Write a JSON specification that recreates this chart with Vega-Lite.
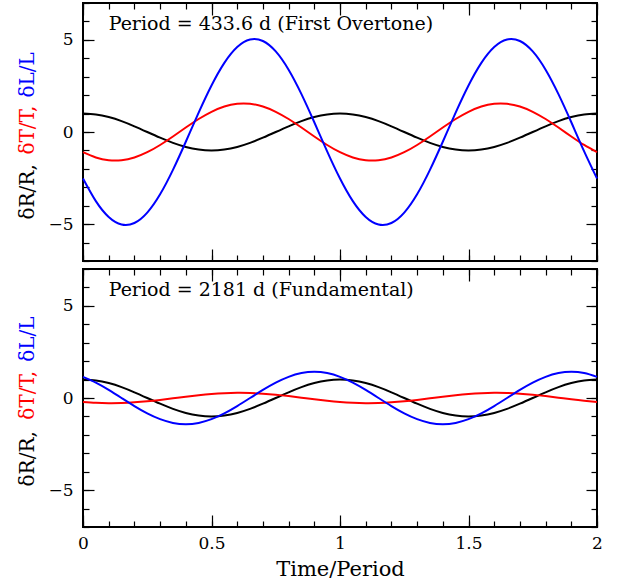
{
  "$schema": "https://vega.github.io/schema/vega-lite/v6.json",
  "padding": {"left": 17, "top": 1, "right": 5, "bottom": 5},
  "spacing": 4,
  "config": {"view": {"stroke": "black", "strokeWidth": 2}, "axis": {"grid": false}},
  "datasets": {
    "w": [
      {"t":0,"dR":1,"dTa":-1.096,"dLa":-2.525,"dTb":-0.216,"dLb":1.149},
      {"t":0.05,"dR":0.951,"dTa":-1.381,"dLa":-3.753,"dTb":-0.26,"dLb":0.835},
      {"t":0.1,"dR":0.809,"dTa":-1.531,"dLa":-4.613,"dTb":-0.279,"dLb":0.439},
      {"t":0.15,"dR":0.588,"dTa":-1.531,"dLa":-5.022,"dTb":-0.271,"dLb":0},
      {"t":0.2,"dR":0.309,"dTa":-1.381,"dLa":-4.939,"dTb":-0.236,"dLb":-0.439},
      {"t":0.25,"dR":0,"dTa":-1.096,"dLa":-4.373,"dTb":-0.178,"dLb":-0.835},
      {"t":0.3,"dR":-0.309,"dTa":-0.704,"dLa":-3.379,"dTb":-0.103,"dLb":-1.149},
      {"t":0.35,"dR":-0.588,"dTa":-0.242,"dLa":-2.054,"dTb":-0.018,"dLb":-1.351},
      {"t":0.4,"dR":-0.809,"dTa":0.242,"dLa":-0.528,"dTb":0.07,"dLb":-1.42},
      {"t":0.45,"dR":-0.951,"dTa":0.704,"dLa":1.05,"dTb":0.15,"dLb":-1.351},
      {"t":0.5,"dR":-1,"dTa":1.096,"dLa":2.525,"dTb":0.216,"dLb":-1.149},
      {"t":0.55,"dR":-0.951,"dTa":1.381,"dLa":3.753,"dTb":0.26,"dLb":-0.835},
      {"t":0.6,"dR":-0.809,"dTa":1.531,"dLa":4.613,"dTb":0.279,"dLb":-0.439},
      {"t":0.65,"dR":-0.588,"dTa":1.531,"dLa":5.022,"dTb":0.271,"dLb":0},
      {"t":0.7,"dR":-0.309,"dTa":1.381,"dLa":4.939,"dTb":0.236,"dLb":0.439},
      {"t":0.75,"dR":0,"dTa":1.096,"dLa":4.373,"dTb":0.178,"dLb":0.835},
      {"t":0.8,"dR":0.309,"dTa":0.704,"dLa":3.379,"dTb":0.103,"dLb":1.149},
      {"t":0.85,"dR":0.588,"dTa":0.242,"dLa":2.054,"dTb":0.018,"dLb":1.351},
      {"t":0.9,"dR":0.809,"dTa":-0.242,"dLa":0.528,"dTb":-0.07,"dLb":1.42},
      {"t":0.95,"dR":0.951,"dTa":-0.704,"dLa":-1.05,"dTb":-0.15,"dLb":1.351},
      {"t":1,"dR":1,"dTa":-1.096,"dLa":-2.525,"dTb":-0.216,"dLb":1.149},
      {"t":1.05,"dR":0.951,"dTa":-1.381,"dLa":-3.753,"dTb":-0.26,"dLb":0.835},
      {"t":1.1,"dR":0.809,"dTa":-1.531,"dLa":-4.613,"dTb":-0.279,"dLb":0.439},
      {"t":1.15,"dR":0.588,"dTa":-1.531,"dLa":-5.022,"dTb":-0.271,"dLb":0},
      {"t":1.2,"dR":0.309,"dTa":-1.381,"dLa":-4.939,"dTb":-0.236,"dLb":-0.439},
      {"t":1.25,"dR":0,"dTa":-1.096,"dLa":-4.373,"dTb":-0.178,"dLb":-0.835},
      {"t":1.3,"dR":-0.309,"dTa":-0.704,"dLa":-3.379,"dTb":-0.103,"dLb":-1.149},
      {"t":1.35,"dR":-0.588,"dTa":-0.242,"dLa":-2.054,"dTb":-0.018,"dLb":-1.351},
      {"t":1.4,"dR":-0.809,"dTa":0.242,"dLa":-0.528,"dTb":0.07,"dLb":-1.42},
      {"t":1.45,"dR":-0.951,"dTa":0.704,"dLa":1.05,"dTb":0.15,"dLb":-1.351},
      {"t":1.5,"dR":-1,"dTa":1.096,"dLa":2.525,"dTb":0.216,"dLb":-1.149},
      {"t":1.55,"dR":-0.951,"dTa":1.381,"dLa":3.753,"dTb":0.26,"dLb":-0.835},
      {"t":1.6,"dR":-0.809,"dTa":1.531,"dLa":4.613,"dTb":0.279,"dLb":-0.439},
      {"t":1.65,"dR":-0.588,"dTa":1.531,"dLa":5.022,"dTb":0.271,"dLb":0},
      {"t":1.7,"dR":-0.309,"dTa":1.381,"dLa":4.939,"dTb":0.236,"dLb":0.439},
      {"t":1.75,"dR":0,"dTa":1.096,"dLa":4.373,"dTb":0.178,"dLb":0.835},
      {"t":1.8,"dR":0.309,"dTa":0.704,"dLa":3.379,"dTb":0.103,"dLb":1.149},
      {"t":1.85,"dR":0.588,"dTa":0.242,"dLa":2.054,"dTb":0.018,"dLb":1.351},
      {"t":1.9,"dR":0.809,"dTa":-0.242,"dLa":0.528,"dTb":-0.07,"dLb":1.42},
      {"t":1.95,"dR":0.951,"dTa":-0.704,"dLa":-1.05,"dTb":-0.15,"dLb":1.351},
      {"t":2,"dR":1,"dTa":-1.096,"dLa":-2.525,"dTb":-0.216,"dLb":1.149}
    ]
  },
  "vconcat": [
    {
      "width": 514, "height": 258,
      "resolve": {"axis": {"x": "independent", "y": "independent"}},
      "layer": [
        {"data": {"name": "w"}, "mark": {"type": "line", "color": "black", "strokeWidth": 2, "interpolate": "natural"},
         "encoding": {
           "x": {"field": "t", "type": "quantitative", "scale": {"domain": [0, 2], "nice": false, "zero": false}, "axis": null},
           "y": {"field": "dR", "type": "quantitative", "scale": {"domain": [-7, 7], "nice": false, "zero": false},
                 "axis": {"orient": "left", "values": [-5, 0, 5], "format": "~g", "ticks": false, "domain": false, "labelPadding": 10, "labelFont": "DejaVu Serif", "labelFontSize": 17, "labelColor": "black", "title": null}}}},
        {"data": {"name": "w"}, "mark": {"type": "line", "color": "#ff0000", "strokeWidth": 2, "interpolate": "natural"},
         "encoding": {
           "x": {"field": "t", "type": "quantitative", "axis": {"orient": "bottom", "values": [0, 0.5, 1, 1.5, 2], "tickSize": -12, "tickWidth": 1.2, "tickColor": "black", "labels": false, "domain": false, "title": null}},
           "y": {"field": "dTa", "type": "quantitative", "axis": {"orient": "left", "values": [-5, 0, 5], "tickSize": -11, "tickWidth": 1.2, "tickColor": "black", "labels": false, "domain": false, "title": null}}}},
        {"data": {"name": "w"}, "mark": {"type": "line", "color": "#0000ff", "strokeWidth": 2, "interpolate": "natural"},
         "encoding": {
           "x": {"field": "t", "type": "quantitative", "axis": {"orient": "bottom", "values": [0,0.1,0.2,0.3,0.4,0.5,0.6,0.7,0.8,0.9,1,1.1,1.2,1.3,1.4,1.5,1.6,1.7,1.8,1.9,2], "tickSize": -6, "tickWidth": 1.2, "tickColor": "black", "labels": false, "domain": false, "title": null}},
           "y": {"field": "dLa", "type": "quantitative", "axis": {"orient": "left", "values": [-7,-6,-5,-4,-3,-2,-1,0,1,2,3,4,5,6,7], "tickSize": -6, "tickWidth": 1.2, "tickColor": "black", "labels": false, "domain": false, "title": null}}}},
        {"data": {"values": [{}]}, "mark": {"type": "text", "align": "left", "baseline": "alphabetic", "font": "DejaVu Serif", "fontSize": 19, "color": "black"},
         "encoding": {
           "x": {"datum": 0.1, "type": "quantitative", "axis": {"orient": "top", "values": [0, 0.5, 1, 1.5, 2], "tickSize": -12, "tickWidth": 1.2, "tickColor": "black", "labels": false, "domain": false, "title": null}},
           "y": {"datum": 5.53, "type": "quantitative", "axis": {"orient": "right", "values": [-5, 0, 5], "tickSize": -11, "tickWidth": 1.2, "tickColor": "black", "labels": false, "domain": false, "title": null}},
           "text": {"value": "Period = 433.6 d (First Overtone)"}}},
        {"data": {"values": [{}]}, "mark": {"type": "text", "angle": 270, "align": "center", "baseline": "middle", "font": "DejaVu Serif", "fontSize": 20, "color": "black"},
         "encoding": {
           "x": {"datum": -0.214, "type": "quantitative", "axis": {"orient": "top", "values": [0,0.1,0.2,0.3,0.4,0.5,0.6,0.7,0.8,0.9,1,1.1,1.2,1.3,1.4,1.5,1.6,1.7,1.8,1.9,2], "tickSize": -6, "tickWidth": 1.2, "tickColor": "black", "labels": false, "domain": false, "title": null}},
           "y": {"datum": -3.25, "type": "quantitative", "axis": {"orient": "right", "values": [-7,-6,-5,-4,-3,-2,-1,0,1,2,3,4,5,6,7], "tickSize": -6, "tickWidth": 1.2, "tickColor": "black", "labels": false, "domain": false, "title": null}},
           "text": {"value": "δR/R,"}}},
        {"data": {"values": [{}]}, "mark": {"type": "text", "angle": 270, "align": "center", "baseline": "middle", "font": "DejaVu Serif", "fontSize": 20, "color": "#ff0000"},
         "encoding": {
           "x": {"datum": -0.214, "type": "quantitative", "axis": null},
           "y": {"datum": 0.1, "type": "quantitative", "axis": null},
           "text": {"value": "δT/T,"}}},
        {"data": {"values": [{}]}, "mark": {"type": "text", "angle": 270, "align": "center", "baseline": "middle", "font": "DejaVu Serif", "fontSize": 20, "color": "#0000ff"},
         "encoding": {
           "x": {"datum": -0.214, "type": "quantitative", "axis": null},
           "y": {"datum": 3.1, "type": "quantitative", "axis": null},
           "text": {"value": "δL/L"}}}
      ]
    },
    {
      "width": 514, "height": 258,
      "resolve": {"axis": {"x": "independent", "y": "independent"}},
      "layer": [
        {"data": {"name": "w"}, "mark": {"type": "line", "color": "black", "strokeWidth": 2, "interpolate": "natural"},
         "encoding": {
           "x": {"field": "t", "type": "quantitative", "scale": {"domain": [0, 2], "nice": false, "zero": false},
                 "axis": {"orient": "bottom", "values": [0, 0.5, 1, 1.5, 2], "format": "~g", "ticks": false, "domain": false, "labelFlush": false, "labelPadding": 8, "labelFont": "DejaVu Serif", "labelFontSize": 17, "labelColor": "black", "title": "Time/Period", "titleFont": "DejaVu Serif", "titleFontSize": 21, "titleFontWeight": "normal", "titleColor": "black", "titlePadding": 7}},
           "y": {"field": "dR", "type": "quantitative", "scale": {"domain": [-7, 7], "nice": false, "zero": false},
                 "axis": {"orient": "left", "values": [-5, 0, 5], "format": "~g", "ticks": false, "domain": false, "labelPadding": 10, "labelFont": "DejaVu Serif", "labelFontSize": 17, "labelColor": "black", "title": null}}}},
        {"data": {"name": "w"}, "mark": {"type": "line", "color": "#ff0000", "strokeWidth": 2, "interpolate": "natural"},
         "encoding": {
           "x": {"field": "t", "type": "quantitative", "axis": {"orient": "bottom", "values": [0, 0.5, 1, 1.5, 2], "tickSize": -12, "tickWidth": 1.2, "tickColor": "black", "labels": false, "domain": false, "title": null}},
           "y": {"field": "dTb", "type": "quantitative", "axis": {"orient": "left", "values": [-5, 0, 5], "tickSize": -11, "tickWidth": 1.2, "tickColor": "black", "labels": false, "domain": false, "title": null}}}},
        {"data": {"name": "w"}, "mark": {"type": "line", "color": "#0000ff", "strokeWidth": 2, "interpolate": "natural"},
         "encoding": {
           "x": {"field": "t", "type": "quantitative", "axis": {"orient": "bottom", "values": [0,0.1,0.2,0.3,0.4,0.5,0.6,0.7,0.8,0.9,1,1.1,1.2,1.3,1.4,1.5,1.6,1.7,1.8,1.9,2], "tickSize": -6, "tickWidth": 1.2, "tickColor": "black", "labels": false, "domain": false, "title": null}},
           "y": {"field": "dLb", "type": "quantitative", "axis": {"orient": "left", "values": [-7,-6,-5,-4,-3,-2,-1,0,1,2,3,4,5,6,7], "tickSize": -6, "tickWidth": 1.2, "tickColor": "black", "labels": false, "domain": false, "title": null}}}},
        {"data": {"values": [{}]}, "mark": {"type": "text", "align": "left", "baseline": "alphabetic", "font": "DejaVu Serif", "fontSize": 19, "color": "black"},
         "encoding": {
           "x": {"datum": 0.1, "type": "quantitative", "axis": {"orient": "top", "values": [0, 0.5, 1, 1.5, 2], "tickSize": -12, "tickWidth": 1.2, "tickColor": "black", "labels": false, "domain": false, "title": null}},
           "y": {"datum": 5.53, "type": "quantitative", "axis": {"orient": "right", "values": [-5, 0, 5], "tickSize": -11, "tickWidth": 1.2, "tickColor": "black", "labels": false, "domain": false, "title": null}},
           "text": {"value": "Period = 2181 d (Fundamental)"}}},
        {"data": {"values": [{}]}, "mark": {"type": "text", "angle": 270, "align": "center", "baseline": "middle", "font": "DejaVu Serif", "fontSize": 20, "color": "black"},
         "encoding": {
           "x": {"datum": -0.214, "type": "quantitative", "axis": {"orient": "top", "values": [0,0.1,0.2,0.3,0.4,0.5,0.6,0.7,0.8,0.9,1,1.1,1.2,1.3,1.4,1.5,1.6,1.7,1.8,1.9,2], "tickSize": -6, "tickWidth": 1.2, "tickColor": "black", "labels": false, "domain": false, "title": null}},
           "y": {"datum": -3.3, "type": "quantitative", "axis": {"orient": "right", "values": [-7,-6,-5,-4,-3,-2,-1,0,1,2,3,4,5,6,7], "tickSize": -6, "tickWidth": 1.2, "tickColor": "black", "labels": false, "domain": false, "title": null}},
           "text": {"value": "δR/R,"}}},
        {"data": {"values": [{}]}, "mark": {"type": "text", "angle": 270, "align": "center", "baseline": "middle", "font": "DejaVu Serif", "fontSize": 20, "color": "#ff0000"},
         "encoding": {
           "x": {"datum": -0.214, "type": "quantitative", "axis": null},
           "y": {"datum": 0.15, "type": "quantitative", "axis": null},
           "text": {"value": "δT/T,"}}},
        {"data": {"values": [{}]}, "mark": {"type": "text", "angle": 270, "align": "center", "baseline": "middle", "font": "DejaVu Serif", "fontSize": 20, "color": "#0000ff"},
         "encoding": {
           "x": {"datum": -0.214, "type": "quantitative", "axis": null},
           "y": {"datum": 3.2, "type": "quantitative", "axis": null},
           "text": {"value": "δL/L"}}}
      ]
    }
  ]
}
